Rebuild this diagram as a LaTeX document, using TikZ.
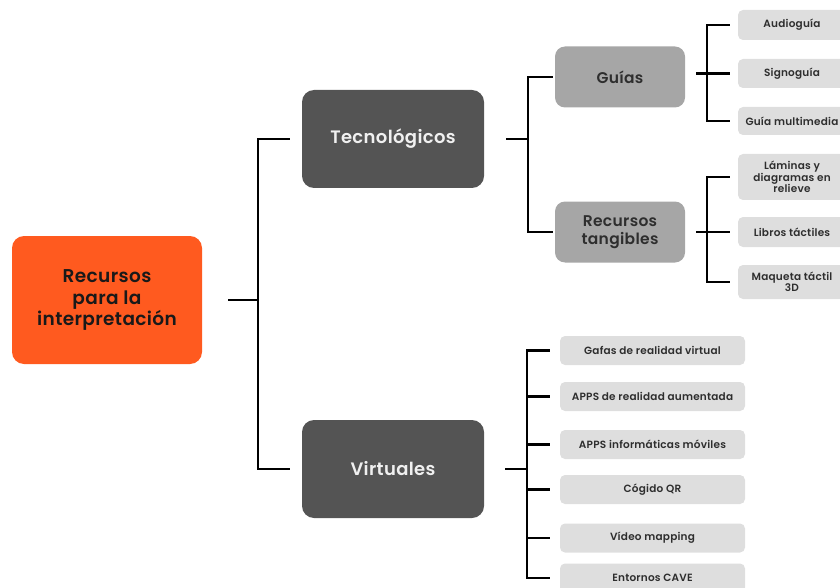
\documentclass[tikz,border=0pt]{standalone}
\usepackage{fontspec}
\setmainfont{Poppins}[UprightFont=* SemiBold, LetterSpace=2]
\usepackage{tikz}
\usetikzlibrary{positioning}
\definecolor{rootorange}{HTML}{FF5A1F}
\definecolor{darkgrey}{HTML}{545454}
\definecolor{midgrey}{HTML}{A6A6A6}
\definecolor{leafgrey}{HTML}{DEDEDE}
\definecolor{textgrey}{HTML}{2E2E2E}

\begin{document}
\begin{tikzpicture}[x=1pt, y=-1pt,
    rootbox/.style={fill=rootorange, rounded corners=12pt, minimum width=190pt,
        minimum height=128pt, align=center, text=black!90,
        font=\fontsize{18.5}{21.5}\selectfont},
    mainbox/.style={fill=darkgrey, rounded corners=12pt, minimum width=182pt,
        minimum height=98pt, text=white!94!black, font=\fontsize{18}{21}\selectfont},
    subbox/.style={fill=midgrey, rounded corners=10pt, minimum width=130pt,
        minimum height=61pt, align=center, text=textgrey,
        font=\fontsize{15.5}{18}\selectfont},
    leafbox/.style={fill=leafgrey, rounded corners=5pt, minimum width=108pt,
        inner sep=2pt, align=center, text=textgrey,
        font=\fontsize{10.5}{11.5}\selectfont},
    vleaf/.style={leafbox, minimum width=185pt, minimum height=29pt},
    conn/.style={line width=2.5pt}]
    \clip (0,0) rectangle (840,588);

    % Define nodes
    \node[rootbox] (root) at (107,300) {Recursos\\para la\\interpretación};
    \node[mainbox] (tec) at (393,139) {Tecnológicos};
    \node[mainbox] (virt) at (393,469) {Virtuales};
    \node[subbox] (guias) at (620,77) {Guías};
    \node[subbox] (tang) at (620,232) {Recursos\\tangibles};

    \node[leafbox, minimum height=30pt] (audio) at (792,25) {Audioguía};
    \node[leafbox, minimum height=29pt] (signo) at (792,73.5) {Signoguía};
    \node[leafbox, minimum height=28pt] (multi) at (792,121) {Guía multimedia};
    \node[leafbox, minimum height=46pt] (laminas) at (792,177) {Láminas y\\diagramas en\\relieve};
    \node[leafbox, minimum height=30pt] (libros) at (792,232) {Libros táctiles};
    \node[leafbox, minimum height=34pt] (maqueta) at (792,282) {Maqueta táctil\\3D};

    \foreach \i/\y/\txt in {1/350.5/Gafas de realidad virtual,
                            2/396.5/APPS de realidad aumentada,
                            3/444.5/APPS informáticas móviles,
                            4/489.5/Cógido QR,
                            5/538/Vídeo mapping,
                            6/578/Entornos CAVE}
        \node[vleaf] (v\i) at (652.5,\y) {\txt};

    % Draw connectors
    \coordinate (jroot) at (258,300);
    \draw[conn] ([xshift=26pt]root.east) -- (jroot);
    \draw[conn] ([xshift=-12pt]tec.west) -| (jroot) |- ([xshift=-12pt]virt.west);

    \coordinate (jtec) at (528,139);
    \draw[conn] ([xshift=22pt]tec.east) -- (jtec);
    \draw[conn] ([xshift=-2pt]guias.west) -| (jtec) |- ([xshift=-2pt]tang.west);

    \coordinate (jguias) at (707,73.5);
    \draw[conn] ([xshift=11pt]guias.east |- signo.west) -- ([xshift=-8pt]signo.west);
    \draw[conn] ([xshift=-8pt]audio.west) -| (jguias) |- ([xshift=-8pt]multi.west);

    \coordinate (jtang) at (707,232);
    \draw[conn] ([xshift=11pt]tang.east) -- ([xshift=-8pt]libros.west);
    \draw[conn] ([xshift=-8pt]laminas.west) -| (jtang) |- ([xshift=-8pt]maqueta.west);

    \coordinate (jvirt) at (527,469);
    \draw[conn] ([xshift=21pt]virt.east) -- (jvirt);
    \draw[conn] ([xshift=-10pt]v1.west) -| (jvirt) |- ([xshift=-10pt]v6.west);
    \foreach \i in {2,...,5}
        \draw[conn] (v\i.west -| jvirt) -- ([xshift=-10pt]v\i.west);
\end{tikzpicture}
\end{document}
